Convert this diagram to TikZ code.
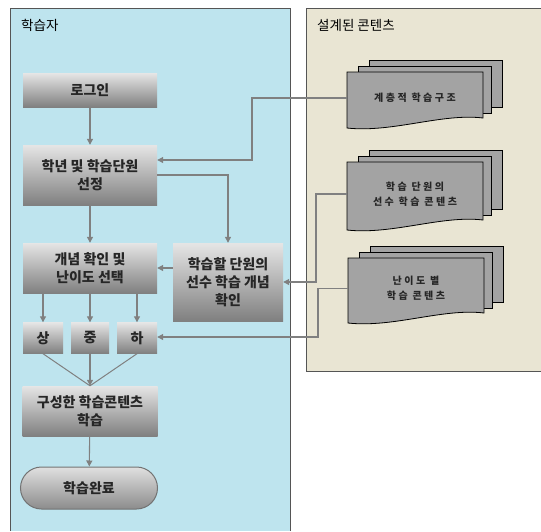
\documentclass[tikz,border=0pt]{standalone}
\usepackage{fontspec}
\setmainfont{Noto Sans CJK KR}
\usetikzlibrary{arrows.meta}

\definecolor{learnerblue}{RGB}{190,228,238}
\definecolor{contentbeige}{RGB}{233,229,211}
\definecolor{framegray}{RGB}{85,85,85}
\definecolor{linkgray}{RGB}{128,128,128}
\definecolor{docgray}{RGB}{163,163,163}

\tikzset{
  paneltitle/.style={anchor=west, inner sep=0pt, font=\fontsize{13.5}{16}\selectfont},
  stepbox/.style={top color=black!10, bottom color=black!50, text=black!85, align=center,
    inner sep=0pt, font=\bfseries\fontsize{14}{18}\selectfont},
  endbox/.style={stepbox, rounded corners=21pt, draw=black!55, line width=1pt,
    top color=black!12, bottom color=black!45},
  docpage/.style={fill=docgray, draw=black, line width=0.8pt},
  doctext/.style={align=center, inner sep=0pt, minimum width=136pt, text=black!85,
    font=\bfseries\fontsize{10}{15}\selectfont\addfontfeature{LetterSpace=25}},
  link/.style={draw=linkgray, line width=1.1pt, -{Triangle[length=6pt,width=6pt]}},
  joinline/.style={draw=linkgray, line width=1pt}
}

% stack of three pages with a wavy front page
\newcommand{\docstack}[5]{%
  \draw[docpage] (#2+22,#3-12) rectangle (#2+155,#3+#4-21);
  \draw[docpage] (#2+11,#3-6) rectangle (#2+144,#3+#4-15);
  \draw[docpage] (#2,#3) -- (#2+136,#3) -- (#2+136,#3+#4-10)
    .. controls (#2+95,#3+#4-15) and (#2+45,#3+#4+5) .. (#2,#3+#4) -- cycle;
  \node[doctext] (#1) at (#2+68,#3+#4/2-2) {#5};
}

\begin{document}
\begin{tikzpicture}[x=1pt, y=-1pt]
    \useasboundingbox (0,0) rectangle (541,531);

    % Learner panel
    \fill[learnerblue] (10,8) rectangle (290,531);
    \draw[framegray, line width=1pt] (10,531) -- (10,8) -- (290,8) -- (290,531);
    \node[paneltitle] (learner) at (21,25) {학습자};

    % Content panel
    \fill[contentbeige] (306,8) rectangle (541,371);
    \draw[framegray, line width=1pt] (541,8) -- (306,8) -- (306,371) -- (541,371);
    \node[paneltitle] (content) at (317,25) {설계된 콘텐츠};

    % Steps of the learner
    \node[stepbox, minimum width=134pt, minimum height=34pt] (login) at (90,90) {로그인};
    \node[stepbox, minimum width=134pt, minimum height=60pt] (select) at (90,175) {학년 및 학습단원\\선정};
    \node[stepbox, minimum width=134pt, minimum height=50pt] (concept) at (90,268) {개념 확인 및\\난이도 선택};
    \node[stepbox, minimum width=110pt, minimum height=78pt] (prereq) at (228,282) {학습할 단원의\\선수 학습 개념\\확인};
    \node[stepbox, minimum width=40pt, minimum height=31pt] (high) at (43,338) {상};
    \node[stepbox, minimum width=38pt, minimum height=31pt] (middle) at (90,338) {중};
    \node[stepbox, minimum width=40pt, minimum height=31pt] (low) at (137,338) {하};
    \node[stepbox, minimum width=135pt, minimum height=50pt] (study) at (90,411) {구성한 학습콘텐츠\\학습};
    \node[endbox, minimum width=137pt, minimum height=42pt] (done) at (89,488) {학습완료};

    % Designed contents
    \docstack{structure}{347}{72}{56}{계층적 학습구조}
    \docstack{prior}{347}{162}{68}{학습 단원의\\선수 학습 콘텐츠}
    \docstack{level}{348}{258}{65}{난이도 별\\학습 콘텐츠}

    % Flow
    \draw[link] (login) -- (select);
    \draw[link] (select) -- (concept);
    \draw[link] (select.east) -| (prereq.north);
    \draw[link] (prereq.west |- concept.east) -- (concept.east);
    \draw[link] (high.north |- concept.south) -- (high.north);
    \draw[link] (middle.north |- concept.south) -- (middle.north);
    \draw[link] (low.north |- concept.south) -- (low.north);
    \draw[joinline] (high.south) -- (study.north);
    \draw[joinline] (low.south) -- (study.north);
    \draw[link] (middle.south) -- (study.north);
    \draw[link] (study) -- (done);

    % Links from the contents
    \coordinate (bendA) at (252,160);
    \coordinate (bendB) at (316,282);
    \coordinate (bendC) at (318,337);
    \draw[link] (structure.west) -| (bendA) -- (bendA -| select.east);
    \draw[link] (prior.west) -| (bendB) -- (bendB -| prereq.east);
    \draw[link] (level.west) -| (bendC) -- (bendC -| low.east);

\end{tikzpicture}
\end{document}
